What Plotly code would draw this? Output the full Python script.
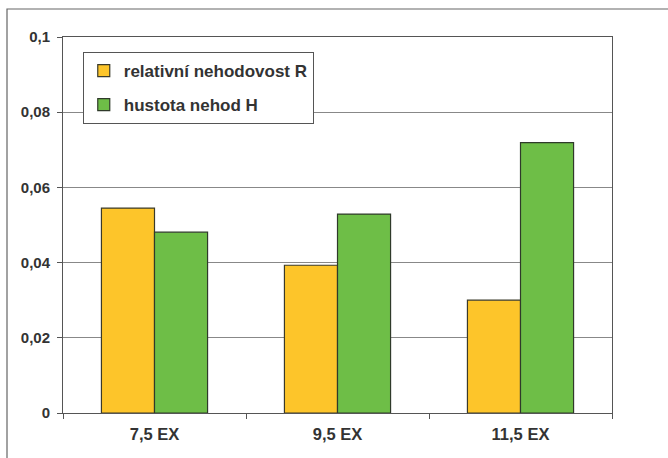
import plotly.graph_objects as go

categories = ["7,5 EX", "9,5 EX", "11,5 EX"]
rel_R = [0.0545, 0.0393, 0.0300]
hust_H = [0.0481, 0.0529, 0.0719]
series_names = ["relativní nehodovost R", "hustota nehod H"]
y_ticks = [0, 0.02, 0.04, 0.06, 0.08, 0.1]

fig = go.Figure()
fig.add_trace(go.Bar(x=categories, y=rel_R, name=series_names[0], legendgroup="a",
                     marker=dict(color="#FDC52A", line=dict(color="#3a3a2a", width=1.2))))
fig.add_trace(go.Bar(x=categories, y=hust_H, name=series_names[1], legendgroup="b",
                     marker=dict(color="#6EBE47", line=dict(color="#2f3a2a", width=1.2))))

fig.update_layout(
    width=668, height=458,
    margin=dict(l=63, r=56, t=37, b=45),
    paper_bgcolor="white", plot_bgcolor="white",
    separators=", ",
    barmode="group", bargap=0.42, bargroupgap=0,
    font=dict(family="Liberation Sans, Arial", size=14, color="#333333", weight="bold"),
    showlegend=True,
    legend=dict(x=0.036, y=0.96, xanchor="left", yanchor="top",
                bordercolor="#555555", borderwidth=1, bgcolor="white",
                font=dict(size=17, color="#333333", family="Liberation Sans, Arial", weight="bold"),
                itemwidth=30, tracegroupgap=9, traceorder="grouped"),
    xaxis=dict(showline=True, linecolor="#555555", mirror=True, ticks="outside",
               tickson="boundaries", ticklen=5, tickcolor="#555555", ticklabelstandoff=6,
               tickfont=dict(size=16.5, color="#333333", weight="bold"), showgrid=False),
    yaxis=dict(range=[0, 0.1], tickvals=y_ticks, showline=True, linecolor="#555555",
               mirror=True, ticks="outside", ticklen=5, tickcolor="#555555",
               gridcolor="#888888", gridwidth=1, zeroline=False, ticklabelstandoff=4,
               tickfont=dict(size=15, color="#333333", weight="bold")),
    shapes=[dict(type="rect", xref="paper", yref="paper", x0=-0.102, x1=1.2,
                 y0=-0.2, y1=1.0745, line=dict(color="#666666", width=1.2), layer="below")],
)

fig.write_html("out.html")
